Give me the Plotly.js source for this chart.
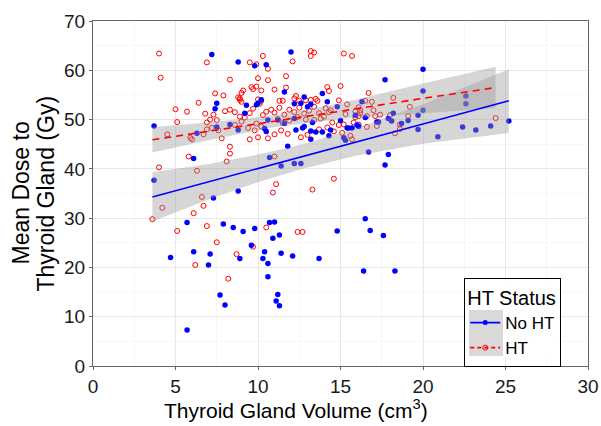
<!DOCTYPE html>
<html>
<head>
<meta charset="utf-8">
<script src="https://cdn.plot.ly/plotly-3.0.1.min.js"></script>
<style>html,body{margin:0;padding:0;background:#fff;}#chart{width:601px;height:426px;}</style>
</head>
<body>
<div id="chart"></div>
<script>
// ---- Data ----
// No HT (blue, filled)
var noHtX = [3.7,3.7,5.7,4.7,6.1,7.0,7.1,7.9,8.5,9.1,8.9,9.6,9.8,7.7,8.0,5.7,10.3,10.4,10.6,10.6,10.7,11.0,10.9,11.3,11.4,11.2,11.1,11.3,12.1,13.7,14.8,16.5,16.8,17.6,16.4,18.3,
  7.3,8.8,6.1,6.3,10.7,11.4,12.2,12.6,11.8,
  7.2,8.8,9.8,10.5,12.0,11.6,7.5,7.4,8.3,7.5,9.3,9.9,10.0,10.2,12.8,13.2,12.2,12.6,13.0,13.9,14.2,14.8,16.3,
  8.8,9.2,10.5,10.4,10.6,11.2,11.6,12.2,12.8,13.2,13.5,13.9,12.3,12.7,13.3,14.3,13.2,
  14.4,15.2,15.3,15.5,15.7,16.0,16.1,16.5,17.2,16.7,17.9,17.7,15.9,15.0,15.4,
  20.0,17.7,20.0,22.6,22.6,20.0,18.2,19.7,17.9,18.1,19.1,18.7,19.7,17.3,22.4,23.2,24.1,25.2,20.9];
var noHtY = [48.7,37.7,29.1,22.0,23.2,20.5,22.7,28.8,28.1,27.3,21.8,24.5,27.9,14.4,12.4,7.3,21.8,23.2,20.8,18.1,29.1,29.2,25.9,26.6,22.9,14.5,13.2,12.2,22.3,21.8,27.4,29.9,27.5,26.5,19.3,19.3,
  34.1,35.5,42.1,47.2,42.3,40.6,41.1,41.1,44.6,
  63.2,61.7,60.9,61.1,63.7,55.6,53.3,52.2,49.0,48.5,52.9,53.0,53.3,54.0,54.6,53.1,53.2,53.3,52.6,55.3,53.6,52.6,53.6,
  47.9,51.3,47.6,48.2,49.9,49.9,49.2,50.2,48.6,47.7,47.5,47.5,47.9,48.3,49.4,46.7,46.0,
  47.9,46.3,45.8,48.3,48.3,48.9,48.6,50.4,49.5,43.4,42.9,40.8,50.9,49.8,48.3,
  60.2,58.1,55.8,54.8,53.2,51.9,51.3,50.9,50.2,49.7,49.8,49.2,48.0,49.5,48.5,47.9,48.7,49.7,46.5];

// HT (red, open)
var htX = [4.0,4.1,6.9,9.5,9.9,10.3,10.6,12.1,13.2,13.4,13.2,15.2,15.7,8.3,10.0,10.6,11.7,15.0,16.7,18.2,14.2,14.3,
  7.4,7.9,8.8,8.9,9.1,9.6,9.7,9.9,10.2,11.0,11.7,6.4,5.0,5.7,9.0,8.9,9.0,10.0,10.1,10.2,11.3,11.5,12.2,12.3,12.5,12.9,13.2,13.6,13.5,14.9,15.4,16.5,16.9,17.0,19.2,14.1,14.4,
  5.1,4.5,6.0,5.9,6.7,7.8,8.3,8.3,8.1,5.8,4.0,6.3,11.0,11.1,10.9,13.3,14.6,15.6,24.4,18.6,18.6,18.3,
  4.2,3.6,6.1,6.6,6.7,5.1,6.9,7.5,6.2,8.2,8.7,9.7,10.5,12.4,12.7,
  6.8,7.1,7.3,6.9,7.5,7.2,7.6,6.9,
  8.0,8.3,8.6,8.9,9.2,9.5,9.7,9.9,10.3,10.5,10.8,8.6,9.0,9.4,9.8,10.0,9.5,10.6,11.0,10.2,
  11.0,11.3,11.6,11.9,12.2,12.5,12.8,13.1,13.4,13.7,14.0,14.3,11.2,11.5,11.9,12.4,12.9,13.4,13.8,14.5,11.4,11.8,12.6,13.0,13.7,14.2,14.6,14.9,
  15.2,15.8,16.1,16.6,15.1,15.7,15.9,16.2,17.4,17.2,
  15.3,15.9,16.1,16.6,17.1,18.0,16.1,16.2,19.1];
var htY = [63.4,58.5,61.6,61.6,61.2,62.9,60.3,61.8,63.9,63.6,62.9,63.4,62.9,58.1,58.4,58.0,58.8,56.8,55.4,54.4,56.6,55.8,
  55.3,54.9,54.5,54.0,55.9,56.6,56.2,56.7,55.9,56.1,56.5,53.4,52.1,51.6,55.4,54.3,53.6,54.1,53.2,53.8,53.8,53.8,54.3,54.8,53.8,53.9,54.0,53.8,54.2,53.9,53.1,53.8,53.6,51.9,52.6,52.3,51.9,
  49.5,47.0,46.0,46.3,47.0,46.2,44.5,43.1,41.5,42.5,40.3,39.6,42.5,36.9,35.2,35.8,38.0,46.7,50.3,49.0,48.1,47.2,
  32.1,29.8,31.0,34.3,32.5,27.4,28.4,25.1,20.5,17.7,22.7,24.2,28.1,27.2,27.2,
  51.2,50.0,51.0,49.4,49.9,48.3,47.8,48.0,
  51.7,52.0,51.5,50.6,50.4,51.3,52.2,49.2,50.9,51.6,52.0,48.9,49.6,48.3,47.8,46.4,46.0,46.2,47.0,48.6,
  51.4,52.4,51.0,52.0,51.5,52.4,51.2,51.8,52.6,51.3,50.6,51.5,50.1,49.3,49.8,50.5,50.0,49.9,50.2,49.4,47.8,47.1,46.4,46.9,48.0,48.4,47.6,48.9,
  49.0,49.4,49.0,48.5,47.3,46.0,50.5,51.3,51.0,48.7,
  51.1,51.7,50.7,50.7,50.7,50.9,52.5,51.9,50.7];

// Fitted lines and confidence bands
var noHtFitX = [3.6,7,10,12.6,16,20,25.2];
var noHtFitY = [34.3,37.4,40.1,42.4,45.5,49.1,53.8];
var noHtLow  = [29.3,33.8,37.3,39.9,42.7,45.1,47.3];
var noHtHigh = [39.3,41.0,42.9,44.9,48.3,53.1,60.2];

var htFitX = [3.6,7,11,15,20,24.4];
var htFitY = [45.9,47.6,49.7,51.7,54.3,56.5];
var htLow  = [43.3,45.8,48.5,50.1,51.3,52.3];
var htHigh = [48.5,49.4,50.9,53.3,57.3,60.7];

var groupNames = ['No HT', 'HT'];
var legendTitle = 'HT Status';
var xTitle = 'Thyroid Gland Volume (cm<sup>3</sup>)';
var yTitleLines = ['Mean Dose to', 'Thyroid Gland (Gy)'];

var FONT = 'Liberation Sans, Arial, sans-serif';
var BAND = 'rgba(153,153,153,0.4)';

function band(xs, lo, hi) {
  return {
    x: xs.concat(xs.slice().reverse()),
    y: hi.concat(lo.slice().reverse()),
    type: 'scatter', mode: 'lines', fill: 'toself', fillcolor: BAND,
    line: {width: 0}, hoverinfo: 'skip', showlegend: false
  };
}

var traces = [
  {x: htX, y: htY, type: 'scatter', mode: 'markers', showlegend: false,
   marker: {symbol: 'circle-open', size: 5, color: '#FF0000', line: {width: 1, color: '#FF0000'}}},
  {x: noHtX, y: noHtY, type: 'scatter', mode: 'markers', showlegend: false,
   marker: {symbol: 'circle', size: 5.5, color: '#0000FF'}},
  band(noHtFitX, noHtLow, noHtHigh),
  band(htFitX, htLow, htHigh),
  {x: noHtFitX, y: noHtFitY, type: 'scatter', mode: 'lines', showlegend: false,
   line: {color: '#0000FF', width: 1.6}},
  {x: htFitX, y: htFitY, type: 'scatter', mode: 'lines', showlegend: false,
   line: {color: '#FF0000', width: 1.6, dash: '7px,5px'}},
  {x: [null], y: [null], type: 'scatter', mode: 'lines+markers', name: groupNames[0],
   line: {color: '#0000FF', width: 1.6}, marker: {symbol: 'circle', size: 5, color: '#0000FF'}},
  {x: [null], y: [null], type: 'scatter', mode: 'lines+markers', name: groupNames[1],
   line: {color: '#FF0000', width: 1.6, dash: '4px,3px'}, marker: {symbol: 'circle-open', size: 5, color: '#FF0000'}}
];

function px2x(p) { return (p - 93) / 495; }
function px2y(p) { return (366 - p) / 345; }

var layout = {
  width: 601, height: 426,
  margin: {l: 93, r: 13, t: 21, b: 60},
  paper_bgcolor: '#fff', plot_bgcolor: '#fff',
  font: {family: FONT, color: '#1a1a1a', size: 19},
  xaxis: {
    range: [0, 30], dtick: 5, tick0: 0, autorange: false,
    showgrid: true, gridcolor: '#E8E8E8', gridwidth: 1, zeroline: false,
    minor: {dtick: 2.5, showgrid: true, gridcolor: '#F2F2F2', gridwidth: 0.6},
    showline: true, mirror: true, linecolor: '#666', linewidth: 1,
    ticks: 'outside', ticklen: 3, tickcolor: '#666',
    tickfont: {family: FONT, size: 19, color: '#1a1a1a'}
  },
  yaxis: {
    range: [0, 70], dtick: 10, tick0: 0, autorange: false,
    showgrid: true, gridcolor: '#E8E8E8', gridwidth: 1, zeroline: false,
    minor: {dtick: 5, showgrid: true, gridcolor: '#F2F2F2', gridwidth: 0.6},
    showline: true, mirror: true, linecolor: '#666', linewidth: 1,
    ticks: 'outside', ticklen: 3, tickcolor: '#666',
    tickfont: {family: FONT, size: 19, color: '#1a1a1a'}
  },
  annotations: [
    {text: xTitle, xref: 'paper', yref: 'paper', x: 0.41, y: -0.125, xanchor: 'center', yanchor: 'middle',
     showarrow: false, font: {family: FONT, size: 21, color: '#000'}},
    {text: yTitleLines[0], xref: 'paper', yref: 'paper', x: px2x(20), y: 0.5, xanchor: 'center', yanchor: 'middle',
     textangle: -90, showarrow: false, font: {family: FONT, size: 23, color: '#000'}},
    {text: yTitleLines[1], xref: 'paper', yref: 'paper', x: px2x(45), y: 0.5, xanchor: 'center', yanchor: 'middle',
     textangle: -90, showarrow: false, font: {family: FONT, size: 23, color: '#000'}}
  ],
  shapes: [
    // white legend background and grey key background (drawn under the legend)
    {type: 'rect', xref: 'paper', yref: 'paper', layer: 'above',
     x0: px2x(465), x1: px2x(559), y0: px2y(357), y1: px2y(281),
     fillcolor: '#fff', line: {width: 0}},
    {type: 'rect', xref: 'paper', yref: 'paper', layer: 'above',
     x0: px2x(469), x1: px2x(503), y0: px2y(356), y1: px2y(310),
     fillcolor: '#D9D9D9', line: {width: 0}}
  ],
  showlegend: true,
  legend: {
    x: 0.75, y: 0.255, xanchor: 'left', yanchor: 'top',
    bgcolor: 'rgba(0,0,0,0)', bordercolor: '#000', borderwidth: 1,
    font: {family: FONT, size: 17, color: '#000'},
    title: {text: legendTitle, font: {family: FONT, size: 20, color: '#000'}},
    itemwidth: 30, tracegroupgap: 0
  }
};

Plotly.newPlot('chart', traces, layout, {displayModeBar: false, staticPlot: true});
</script>
</body>
</html>
